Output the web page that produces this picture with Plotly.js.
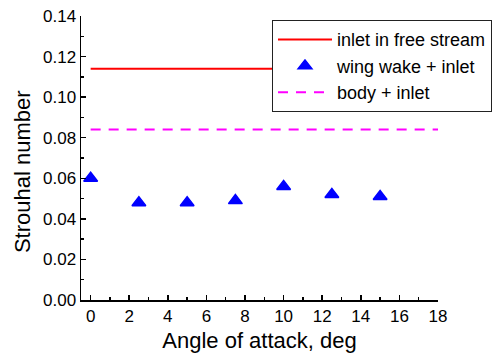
<!DOCTYPE html>
<html>
<head>
<meta charset="utf-8">
<script src="https://cdn.plot.ly/plotly-3.0.1.min.js"></script>
<style>html,body{margin:0;padding:0;background:#fff;}#chart{width:498px;height:361px;}</style>
</head>
<body>
<div id="chart"></div>
<script>
// Data
const angles = [0, 2.5, 5, 7.5, 10, 12.5, 15];
const wingWakeInlet = [0.060, 0.048, 0.048, 0.049, 0.056, 0.052, 0.051];
const freeStreamX = [0, 18];
const freeStreamSt = [0.114, 0.114];
const bodyInletX = [0, 18];
const bodyInletSt = [0.084, 0.084];
const xTicks = [0, 2, 4, 6, 8, 10, 12, 14, 16, 18];
const yTicks = [0, 0.02, 0.04, 0.06, 0.08, 0.10, 0.12, 0.14];

const font = 'Liberation Sans, Arial, sans-serif';

const traces = [
  {x: freeStreamX, y: freeStreamSt, mode: 'lines', name: 'inlet in free stream',
   line: {color: '#ff0000', width: 2}},
  {x: angles, y: wingWakeInlet, mode: 'markers', name: 'wing wake + inlet',
   marker: {symbol: 'triangle-up', size: 12, color: '#0000ff', line: {color: '#0000ff', width: 1.5}}},
  {x: bodyInletX, y: bodyInletSt, mode: 'lines', name: 'body + inlet',
   line: {color: '#ff00ff', width: 2, dash: '10px,8px'}}
];

const layout = {
  width: 498, height: 361,
  margin: {l: 81, r: 60, t: 16, b: 61, autoexpand: false},
  paper_bgcolor: '#fff', plot_bgcolor: '#fff',
  font: {family: font, color: '#000', size: 17},
  showlegend: true,
  legend: {x: 0.535, y: 0.985, xanchor: 'left', yanchor: 'top',
    bgcolor: '#fff', bordercolor: '#222', borderwidth: 1,
    font: {family: font, size: 18, color: '#000'}, itemwidth: 54, tracegroupgap: 0},
  xaxis: {
    range: [-0.5, 18], tickvals: xTicks, ticktext: xTicks.map(String),
    ticks: 'inside', ticklen: 5, tickwidth: 1.5, tickcolor: '#000',
    minor: {dtick: 1, tick0: 0, ticks: 'inside', ticklen: 3, tickwidth: 1.5, tickcolor: '#000'},
    showline: true, linecolor: '#000', linewidth: 1.5, showgrid: false, zeroline: false,
    tickfont: {family: font, size: 17, color: '#000'},
    title: {text: 'Angle of attack, deg', font: {family: font, size: 22, color: '#000'}, standoff: 7},
    automargin: false
  },
  yaxis: {
    range: [0, 0.14], tickvals: yTicks, ticktext: yTicks.map(v => v.toFixed(2)),
    ticks: 'inside', ticklen: 5, tickwidth: 1.5, tickcolor: '#000',
    minor: {dtick: 0.01, tick0: 0, ticks: 'inside', ticklen: 3, tickwidth: 1.5, tickcolor: '#000'},
    showline: true, linecolor: '#000', linewidth: 1.5, showgrid: false, zeroline: false,
    tickfont: {family: font, size: 17, color: '#000'},
    automargin: false
  },
  annotations: [{
    text: 'Strouhal number', textangle: -90, showarrow: false,
    xref: 'paper', yref: 'paper', x: -0.164, y: 0.452, xanchor: 'center', yanchor: 'middle',
    font: {family: font, size: 22, color: '#000'}
  }]
};

Plotly.newPlot('chart', traces, layout, {displayModeBar: false, staticPlot: true});
</script>
</body>
</html>
